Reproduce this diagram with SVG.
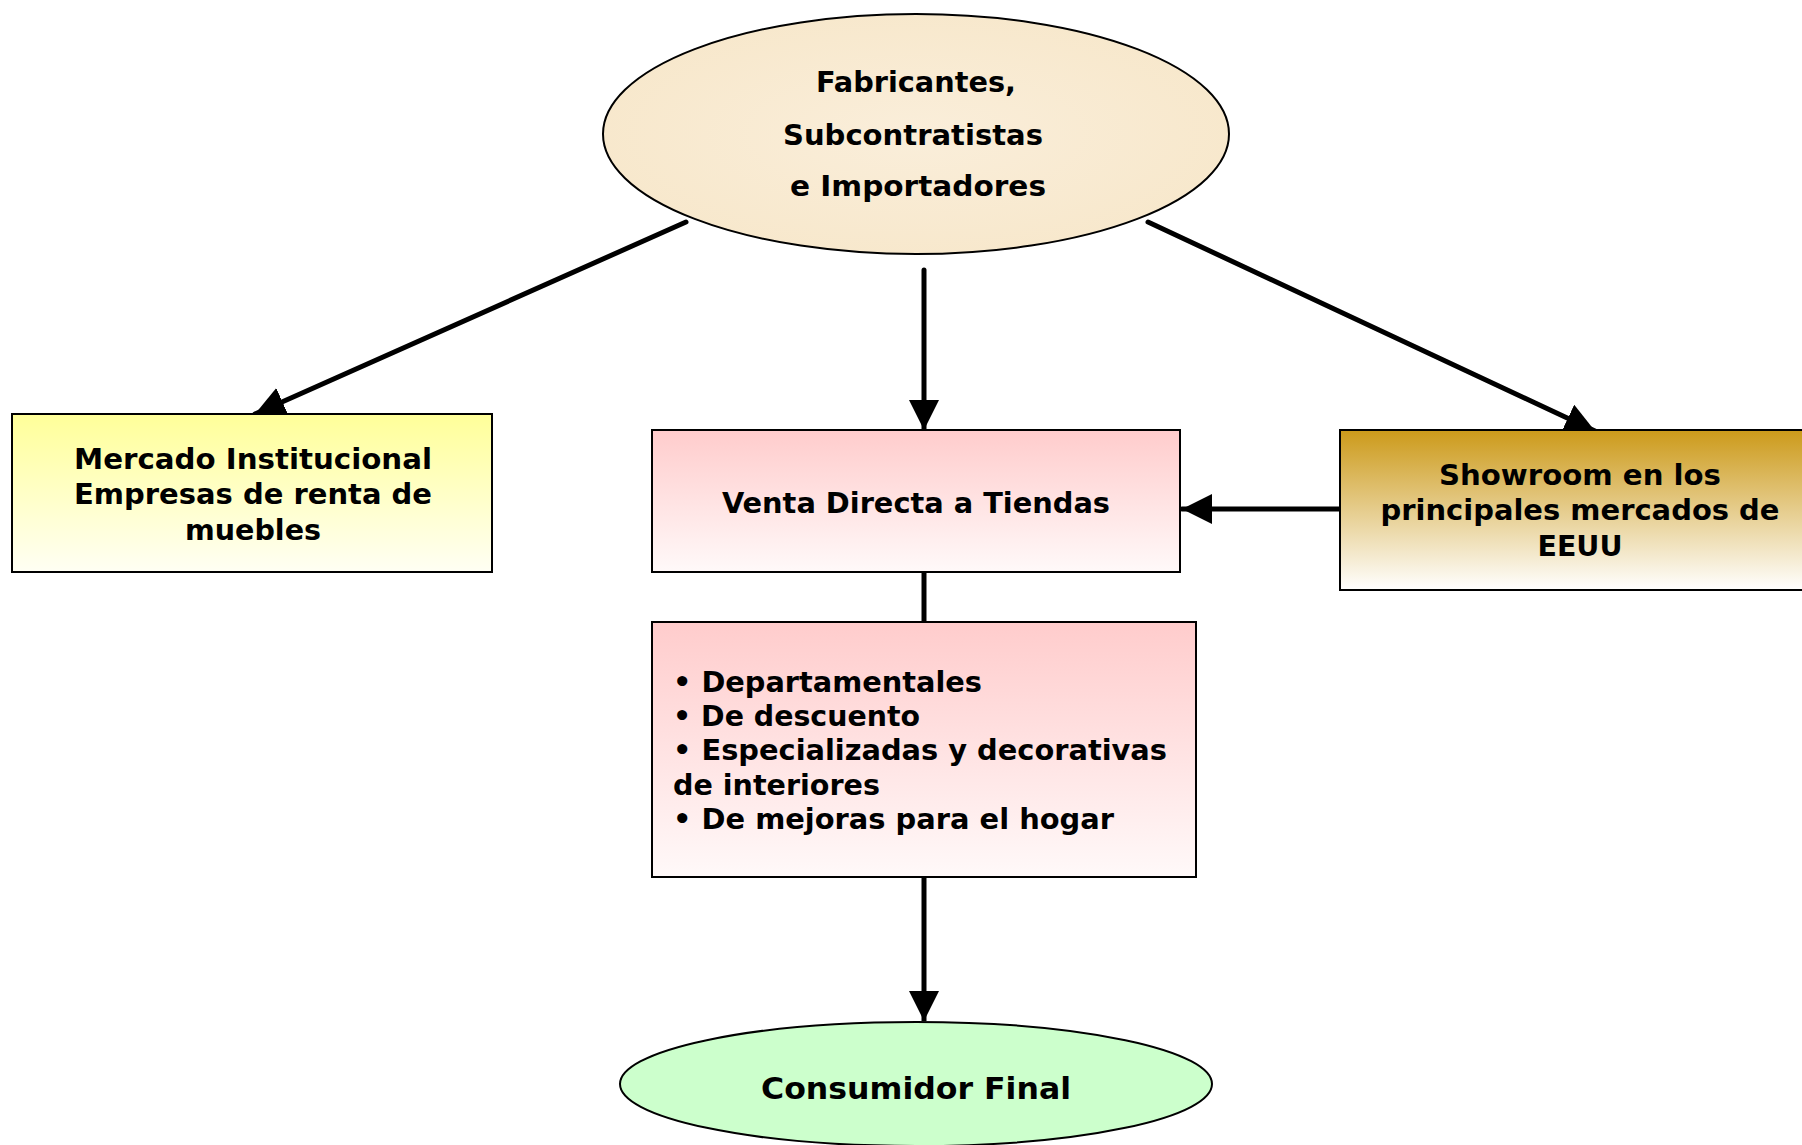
<svg xmlns="http://www.w3.org/2000/svg" width="1802" height="1145" viewBox="0 0 1802 1145">
<style>
.t{font-family:"DejaVu Sans","Liberation Sans",sans-serif;font-weight:bold;font-size:28px;fill:#000}
.c{font-family:"DejaVu Sans Condensed","DejaVu Sans","Liberation Sans",sans-serif;font-stretch:condensed;font-weight:bold;font-size:29px;fill:#000}
.box{stroke:#000;stroke-width:2}
.edge{stroke:#000;stroke-width:5;fill:none;stroke-linecap:round}
</style>
<defs>
<linearGradient id="gY" x1="0" y1="0" x2="0" y2="1"><stop offset="0" stop-color="#FFFF99"/><stop offset="1" stop-color="#FFFFF4"/></linearGradient>
<linearGradient id="gP" x1="0" y1="0" x2="0" y2="1"><stop offset="0" stop-color="#FFCCCC"/><stop offset="1" stop-color="#FFF9F9"/></linearGradient>
<linearGradient id="gG" x1="0" y1="0" x2="0" y2="1"><stop offset="0" stop-color="#CC9A1A"/><stop offset="1" stop-color="#FFFFFF"/></linearGradient>
<radialGradient id="gT" cx="0.5" cy="0.5" r="0.6"><stop offset="0" stop-color="#FAEEDA"/><stop offset="1" stop-color="#F7E7CA"/></radialGradient>
<marker id="ah" viewBox="0 0 10 10" refX="10" refY="5" markerWidth="6" markerHeight="6" markerUnits="strokeWidth" orient="auto"><path d="M0,0 L10,5 L0,10 Z" fill="#000"/></marker>
</defs>
<rect width="1802" height="1145" fill="#fff"/>
<g id="connectors">
<line class="edge" x1="686" y1="222" x2="255" y2="414" marker-end="url(#ah)"/>
<line class="edge" x1="924" y1="270" x2="924" y2="430" marker-end="url(#ah)"/>
<line class="edge" x1="1148" y1="222" x2="1595" y2="431" marker-end="url(#ah)"/>
<line class="edge" x1="1340" y1="509" x2="1182" y2="509" marker-end="url(#ah)"/>
<line class="edge" x1="924" y1="572" x2="924" y2="622" style="stroke-linecap:butt"/>
<line class="edge" x1="924" y1="877" x2="924" y2="1021" marker-end="url(#ah)" style="stroke-linecap:butt"/>
</g>
<g id="n-fabricantes">
<ellipse cx="916" cy="134" rx="313" ry="120" fill="url(#gT)" stroke="#000" stroke-width="2"/>
<text class="c" x="916" y="92" text-anchor="middle" textLength="200" lengthAdjust="spacingAndGlyphs">Fabricantes,</text>
<text class="c" x="913" y="145" text-anchor="middle" textLength="260" lengthAdjust="spacingAndGlyphs">Subcontratistas</text>
<text class="c" x="918" y="196" text-anchor="middle" textLength="256" lengthAdjust="spacingAndGlyphs">e Importadores</text>
</g>
<g id="n-institucional">
<rect class="box" x="12" y="414" width="480" height="158" fill="url(#gY)"/>
<text class="t" x="253" y="469" text-anchor="middle" textLength="358" lengthAdjust="spacingAndGlyphs">Mercado Institucional</text>
<text class="t" x="253" y="504" text-anchor="middle" textLength="358" lengthAdjust="spacingAndGlyphs">Empresas de renta de</text>
<text class="t" x="253" y="540" text-anchor="middle" textLength="136" lengthAdjust="spacingAndGlyphs">muebles</text>
</g>
<g id="n-venta">
<rect class="box" x="652" y="430" width="528" height="142" fill="url(#gP)"/>
<text class="c" x="916" y="513" text-anchor="middle" textLength="388" lengthAdjust="spacingAndGlyphs">Venta Directa a Tiendas</text>
</g>
<g id="n-showroom">
<rect class="box" x="1340" y="430" width="470" height="160" fill="url(#gG)"/>
<text class="t" x="1580" y="485" text-anchor="middle" textLength="282" lengthAdjust="spacingAndGlyphs">Showroom en los</text>
<text class="t" x="1580" y="520" text-anchor="middle" textLength="399" lengthAdjust="spacingAndGlyphs">principales mercados de</text>
<text class="t" x="1580" y="556" text-anchor="middle" textLength="85" lengthAdjust="spacingAndGlyphs">EEUU</text>
</g>
<g id="n-tiendas">
<rect class="box" x="652" y="622" width="544" height="255" fill="url(#gP)"/>
<text class="t" x="673" y="692" textLength="309" lengthAdjust="spacingAndGlyphs">• Departamentales</text>
<text class="t" x="673" y="726" textLength="247" lengthAdjust="spacingAndGlyphs">• De descuento</text>
<text class="t" x="673" y="760" textLength="494" lengthAdjust="spacingAndGlyphs">• Especializadas y decorativas</text>
<text class="t" x="673" y="795" textLength="207" lengthAdjust="spacingAndGlyphs">de interiores</text>
<text class="t" x="673" y="829" textLength="441" lengthAdjust="spacingAndGlyphs">• De mejoras para el hogar</text>
</g>
<g id="n-consumidor">
<ellipse cx="916" cy="1084" rx="296" ry="62" fill="#CCFFCC" stroke="#000" stroke-width="2"/>
<text class="t" x="916" y="1099" text-anchor="middle" textLength="310" lengthAdjust="spacingAndGlyphs" style="font-size:30px">Consumidor Final</text>
</g>
</svg>
